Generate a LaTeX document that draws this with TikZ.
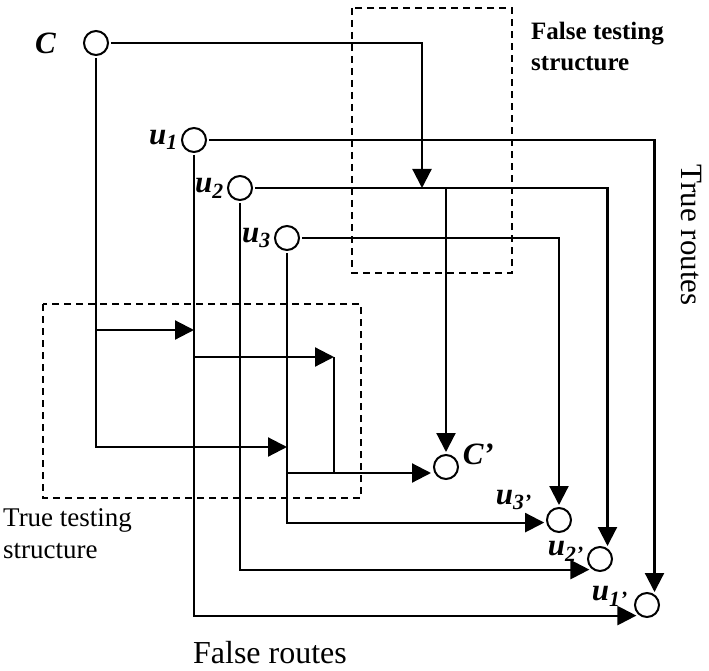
\documentclass[tikz,border=0pt]{standalone}
\usepackage{fontspec}
\setmainfont{Liberation Serif}
\usepackage{tikz}
\usetikzlibrary{positioning, arrows.meta}

\begin{document}
\begin{tikzpicture}[
    x=1pt, y=-1pt,
    port/.style={draw, circle, line width=2pt, inner sep=0pt, minimum size=24pt, outer sep=3pt},
    lbl/.style={font=\fontsize{31}{33}\selectfont\bfseries\itshape, inner sep=1pt},
    route/.style={line width=2.2pt},
    arr/.style={route, -{Triangle[length=19pt, width=19pt]}},
    tbox/.style={dash pattern=on 7pt off 5pt, line width=1.7pt},
    note/.style={font=\fontsize{27}{32}\selectfont, align=left, inner sep=0pt}
]
\useasboundingbox (0,0) rectangle (709,671);

% inputs
\node[port] (C) at (96,43) {};
\node[port] (u1) at (194,140) {};
\node[port] (u2) at (240,188) {};
\node[port] (u3) at (287,238) {};
% outputs
\node[port] (Cp) at (446,467) {};
\node[port] (u3p) at (559,520) {};
\node[port] (u2p) at (600,559) {};
\node[port] (u1p) at (647,605) {};

\node[lbl, left=24pt of C] (Clbl) {C};
\node[lbl, left=0pt of u1] (u1lbl) {u\textsubscript{1}};
\node[lbl, left=0pt of u2] (u2lbl) {u\textsubscript{2}};
\node[lbl, left=0pt of u3] (u3lbl) {u\textsubscript{3}};
\node[lbl, above right=-10pt and 5pt of Cp] (Cplbl) {C'};
\node[lbl, left=11pt of u3p, yshift=20pt] (u3plbl) {u\textsubscript{3'}};
\node[lbl, left=0pt of u2p, yshift=8pt] (u2plbl) {u\textsubscript{2'}};
\node[lbl, left=3pt of u1p, yshift=9pt] (u1plbl) {u\textsubscript{1'}};

% junctions
\coordinate (fjoin) at (422,188);
\coordinate (tjoin1) at (194,330);
\coordinate (tjoin3) at (287,447);
\coordinate (mjoin) at (334,357);
\coordinate (cjoin) at (287,473);

% testing boxes
\draw[tbox] (352,8) rectangle (512,273);
\draw[tbox] (43,304) rectangle (361,498);

% true routes
\draw[arr] (C) -| (fjoin);
\draw[arr] (u1) -| (u1p.60);
\draw[arr] (u2) -| (u2p.60);
\draw[arr] (u3) -| (u3p.north);
\draw[arr] (Cp |- u2) -- (Cp);

% false routes
\draw[arr] (C) |- (tjoin3);
\draw[arr] (C |- tjoin1) -- (tjoin1);
\draw[arr] (u1 |- mjoin) -- (mjoin);
\draw[route] (mjoin) -- (mjoin |- cjoin);
\draw[arr] (cjoin) -- (cjoin -| Cp.west);
\draw[arr] (u1) |- (u1p.south west);
\draw[arr] (u2) |- (u2p.south west);
\draw[arr] (u3) |- (u3p.190);

\node[note, font=\fontsize{25}{31}\selectfont\bfseries, anchor=north west] (ftest) at (531,22) {False testing\\structure};
\node[note, anchor=north west] (ttest) at (3,508) {True testing\\structure};
\node[note, font=\fontsize{32}{34}\selectfont] (froutes) at (270,653) {False routes};
\node[note, font=\fontsize{31}{33}\selectfont, rotate=-90] (troutes) at (691,235) {True routes};
\end{tikzpicture}
\end{document}
